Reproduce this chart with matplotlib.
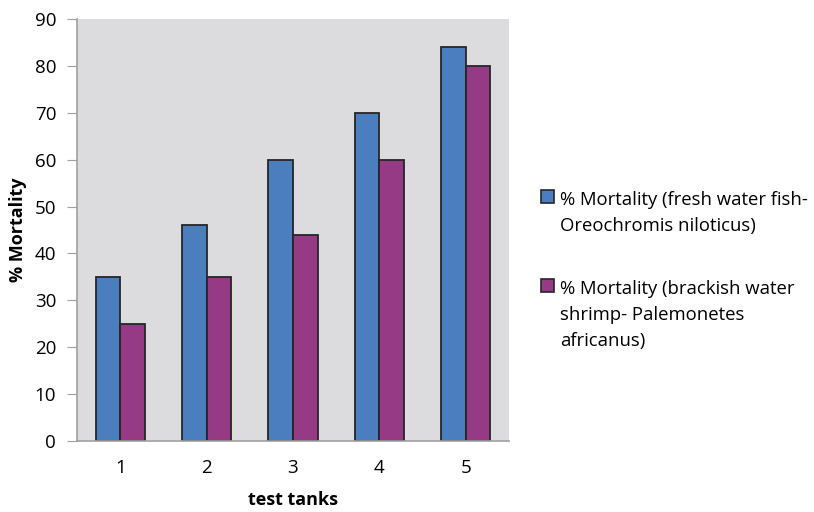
import matplotlib.pyplot as plt
import numpy as np
from matplotlib.patches import Rectangle

tanks = ["1", "2", "3", "4", "5"]
fish_mortality = [35, 46, 60, 70, 84]
shrimp_mortality = [25, 35, 44, 60, 80]
fish_label = "% Mortality (fresh water fish-\nOreochromis niloticus)"
shrimp_label = "% Mortality (brackish water\nshrimp- Palemonetes\nafricanus)"

plt.rcParams["font.family"] = ["Open Sans", "DejaVu Sans"]

W, H = 814, 512
fig = plt.figure(figsize=(W / 100, H / 100), dpi=100)
ax = fig.add_axes([77 / W, 1 - 441 / H, (509 - 77) / W, (441 - 19) / H])
ax.set_facecolor("#dcdcde")

x = np.arange(len(tanks))
width = 0.285
edge = dict(edgecolor="#262626", linewidth=1.3)
ax.bar(x - width / 2, fish_mortality, width, color="#4a7ebf", label=fish_label, **edge)
ax.bar(x + width / 2, shrimp_mortality, width, color="#963a85", label=shrimp_label, **edge)

ax.set_xlim(-0.5, len(tanks) - 0.5)
ax.set_ylim(0, 90)
ax.set_yticks(range(0, 91, 10))
ax.set_xticks(x, tanks)
ax.tick_params(axis="y", length=7, color="#a0a0a0", labelsize=13.5, pad=8)
ax.tick_params(axis="x", length=0, labelsize=13.5, pad=13)
for side in ("top", "right"):
    ax.spines[side].set_visible(False)
for side in ("left", "bottom"):
    ax.spines[side].set_color("#a0a0a0")
    ax.spines[side].set_linewidth(1.2)

ax.set_ylabel("% Mortality", fontsize=13, fontweight="bold", va="center")
ax.yaxis.set_label_coords((18 - 77) / 432, 0.5)
ax.set_xlabel("test tanks", fontsize=13, fontweight="bold", va="center")
ax.xaxis.set_label_coords(0.5, (441 - 500) / 422)

# legend drawn by hand so each swatch sits beside the first line of its label
handles, labels = ax.get_legend_handles_labels()
line_gap = 26
for handle, label, base in zip(handles, labels, (205, 294)):
    fig.patches.append(Rectangle((541 / W, 1 - (base - 2) / H), 13 / W, 13 / H,
                                 transform=fig.transFigure,
                                 facecolor=handle.patches[0].get_facecolor(),
                                 edgecolor="#262626", linewidth=1.2))
    for i, line in enumerate(label.split("\n")):
        fig.text(560 / W, 1 - (base + i * line_gap) / H, line, fontsize=13.3,
                 va="baseline")

fig.savefig("out.png", dpi=100)
